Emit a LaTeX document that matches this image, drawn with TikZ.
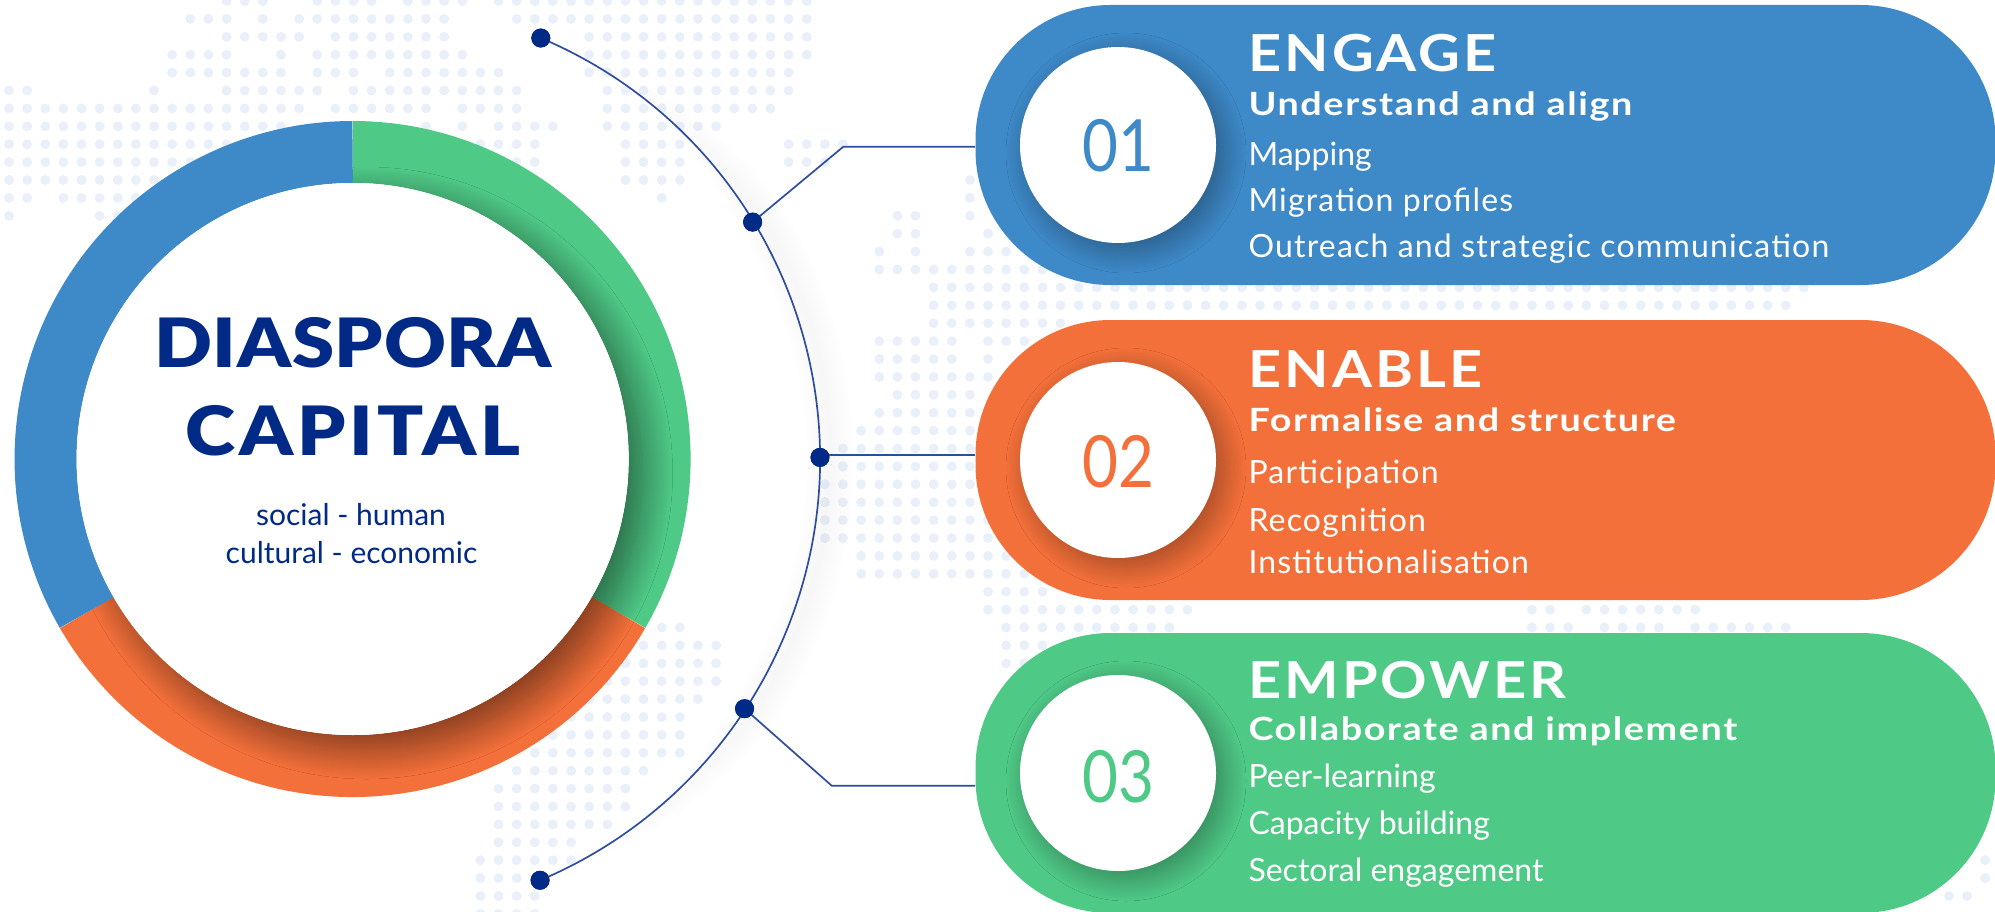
\documentclass[tikz,border=0pt]{standalone}
\usepackage{fontspec}
\setmainfont{Lato}
\newfontfamily\digitFont[FakeStretch=0.86]{Lato}
\newfontfamily\titleFont[FakeStretch=1.12,LetterSpace=1]{Lato Black}
\newfontfamily\titleWideFont[FakeStretch=1.12,LetterSpace=6]{Lato Black}
\newfontfamily\headFont[FakeStretch=1.13,LetterSpace=6]{Lato Bold}
\newfontfamily\subFont[FakeStretch=1.18,LetterSpace=5]{Lato Bold}
\newfontfamily\wideItemFont[LetterSpace=3.7]{Lato}
\usetikzlibrary{positioning,calc,shadows.blur}
\definecolor{ringBlue}{HTML}{3E89C8}
\definecolor{ringGreen}{HTML}{4FC986}
\definecolor{ringOrange}{HTML}{F4703A}
\definecolor{navy}{HTML}{012A87}
\definecolor{wire}{HTML}{2F4D9E}
\definecolor{mapDot}{HTML}{EAF0FA}
\tikzset{
    bullet/.style={circle,fill=navy,inner sep=0pt,minimum size=19pt},
    wireLine/.style={draw=wire,line width=1.7pt},
    pill/.style={rounded corners=135pt,minimum width=1020pt,minimum height=280pt,inner sep=0pt,anchor=west},
    badge/.style={circle,fill=white,inner sep=0pt,minimum size=196pt,
        blur shadow={shadow xshift=8pt,shadow yshift=-8pt,shadow blur radius=22pt,shadow opacity=34,shadow blur steps=25}},
    digits/.style={font=\digitFont\fontsize{72}{72}\selectfont,inner sep=0pt,anchor=base},
    titleText/.style={anchor=base,inner sep=0pt,text=navy},
    kindText/.style={anchor=base,inner sep=0pt,text=navy,font=\fontsize{30}{30}\selectfont},
    headText/.style={anchor=base west,inner sep=0pt,text=white,font=\headFont\fontsize{51}{51}\selectfont},
    subText/.style={anchor=base west,inner sep=0pt,text=white,font=\subFont\fontsize{32}{32}\selectfont},
    itemText/.style={anchor=base west,inner sep=0pt,text=white,font=\fontsize{32}{32}\selectfont},
    wideItemText/.style={itemText,font=\wideItemFont\fontsize{32}{32}\selectfont},
}
\begin{document}
\begin{tikzpicture}[x=1pt,y=-1pt,line width=1pt]
    \clip (0,0) rectangle (1995,912);
    \useasboundingbox (0,0) rectangle (1995,912);

    % world map dots: row / first column / last column
    \foreach \n/\a/\b in {0/12/14,0/17/20,0/22/25,0/27/44,
        1/10/12,1/14/14,1/16/24,1/28/44,
        2/12/16,2/18/24,2/32/44,
        3/9/12,3/15/15,3/17/25,3/32/44,
        4/9/15,4/17/19,4/21/27,4/32/43,
        5/0/1,5/8/8,5/12/17,5/19/28,5/33/43,
        6/0/16,6/18/23,6/25/28,6/33/42,
        7/0/15,7/23/23,7/25/25,7/27/30,7/33/39,
        8/0/12,8/26/29,8/34/37,8/43/46,
        9/0/10,9/27/29,9/34/37,9/43/45,
        10/0/8,10/34/37,10/53/53,
        11/0/1,11/3/7,11/36/36,11/53/53,
        12/0/0,12/5/6,12/49/50,12/53/53,
        13/49/50,13/54/54,
        14/48/48,14/50/50,14/53/55,
        15/48/57,16/51/99,17/51/98,18/51/58,
        19/48/52,19/54/56,20/48/52,20/54/54,21/48/54,22/49/53,23/48/53,24/47/53,
        25/46/53,26/46/53,27/45/54,28/45/54,29/45/54,30/45/54,31/47/56,32/47/56,33/54/57,
        34/54/65,34/84/85,34/87/93,
        35/36/37,35/55/64,35/84/86,35/88/91,35/93/98,
        36/35/39,36/55/57,37/34/39,37/55/56,38/33/39,39/32/38,40/31/37,41/30/37,42/29/37,
        43/28/35,44/27/34,45/27/34,46/27/33,47/27/31,
        48/26/31,48/109/109,49/26/28,49/109/109,50/26/29,50/107/108,51/26/29}
        \foreach \k in {\a,...,\b}
            \fill[mapDot] ({9+18.13*\k},{1+17.9*\n}) circle[radius=5pt];

    \coordinate (arcCentre) at (363,459);

    % soft shade along the outer side of the big arc
    \foreach \w in {6,12,...,48} {
        \pgfmathsetmacro{\ang}{64-0.6*\w}
        \draw[black,opacity=0.005,line width=\w pt] ($(arcCentre)+(10,0)+(\ang:457pt)$) arc[start angle=\ang,end angle=-\ang,radius=457pt];
    }

    \node[bullet] (dotA) at ($(arcCentre)+(67.1:457pt)$) {};
    \node[bullet] (dotB) at ($(arcCentre)+(31.3:456pt)$) {};
    \node[bullet] (dotC) at ($(arcCentre)+(0.2:457pt)$) {};
    \node[bullet] (dotD) at ($(arcCentre)+(-33.2:456pt)$) {};
    \node[bullet] (dotE) at ($(arcCentre)+(-67.2:457pt)$) {};

    % pills
    \node[pill,fill=ringBlue] (pillOne) at (975,145) {};
    \node[pill,fill=ringOrange] (pillTwo) at (975,460) {};
    \node[pill,fill=ringGreen] (pillThree) at (975,773) {};

    \coordinate (bendOne) at (843.3,146.7);
    \coordinate (bendTwo) at (820,455);
    \coordinate (bendThree) at (831.7,785.7);
    \draw[wireLine] (dotA.center) arc[start angle=67.1,end angle=-67.2,radius=457pt];
    \draw[wireLine] (dotB.center) -- (bendOne) -- (bendOne -| pillOne.west);
    \draw[wireLine] (bendTwo) -- (bendTwo -| pillTwo.west);
    \draw[wireLine] (dotD.center) -- (bendThree) -- (bendThree -| pillThree.west);
    \node[bullet] at (dotA) {};
    \node[bullet] at (dotB) {};
    \node[bullet] at (dotC) {};
    \node[bullet] at (dotD) {};
    \node[bullet] at (dotE) {};

    % ring
    \coordinate (ringCentre) at (352.6,459);
    \draw[ringGreen,line width=62pt] ($(ringCentre)+(90:307pt)$) arc[start angle=90,end angle=-30,radius=307pt];
    \draw[ringOrange,line width=62pt] ($(ringCentre)+(-30:307pt)$) arc[start angle=-30,end angle=-150,radius=307pt];
    \node[circle,fill=white,inner sep=0pt,minimum size=552pt,
        blur shadow={shadow xshift=14pt,shadow yshift=-14pt,shadow blur radius=30pt,shadow opacity=50,shadow blur steps=30}] (ringShade) at (ringCentre) {};
    \draw[ringBlue,line width=62pt] ($(ringCentre)+(-150:307pt)$) arc[start angle=210,end angle=90,radius=307pt];
    \node[circle,fill=white,inner sep=0pt,minimum size=552pt] (ringCore) at (ringCentre) {};

    \node[titleText,font=\titleFont\fontsize{68}{68}\selectfont] (diaspora) at (353,367.7) {DIASPORA};
    \node[titleText,font=\titleWideFont\fontsize{68}{68}\selectfont] (capital) at (353,455) {CAPITAL};
    \node[kindText] (kindsA) at (351,525.6) {social - human};
    \node[kindText] (kindsB) at (351.5,563) {cultural - economic};

    % first pill
    \node[badge] (badgeOne) at (1118,145) {};
    \node[digits,text=ringBlue] (numOne) at (1118,172) {01};
    \node[headText] (headOne) at (1248,72) {ENGAGE};
    \node[subText] (subOne) at (1248,116) {Understand and align};
    \node[itemText] (itemOneA) at (1248,166) {Mapping};
    \node[wideItemText] (itemOneB) at (1248,212) {Migration profiles};
    \node[wideItemText] (itemOneC) at (1248,258) {Outreach and strategic communication};

    % second pill
    \node[badge] (badgeTwo) at (1118,460) {};
    \node[digits,text=ringOrange] (numTwo) at (1118,487) {02};
    \node[headText] (headTwo) at (1248,387) {ENABLE};
    \node[subText] (subTwo) at (1248,431) {Formalise and structure};
    \node[wideItemText] (itemTwoA) at (1248,483) {Participation};
    \node[wideItemText] (itemTwoB) at (1248,531) {Recognition};
    \node[wideItemText] (itemTwoC) at (1248,573) {Institutionalisation};

    % third pill
    \node[badge] (badgeThree) at (1118,773) {};
    \node[digits,text=ringGreen] (numThree) at (1118,802) {03};
    \node[headText] (headThree) at (1248,698) {EMPOWER};
    \node[subText] (subThree) at (1248,740) {Collaborate and implement};
    \node[itemText] (itemThreeA) at (1248,787) {Peer-learning};
    \node[itemText] (itemThreeB) at (1248,834) {Capacity building};
    \node[itemText] (itemThreeC) at (1248,881) {Sectoral engagement};
\end{tikzpicture}
\end{document}
